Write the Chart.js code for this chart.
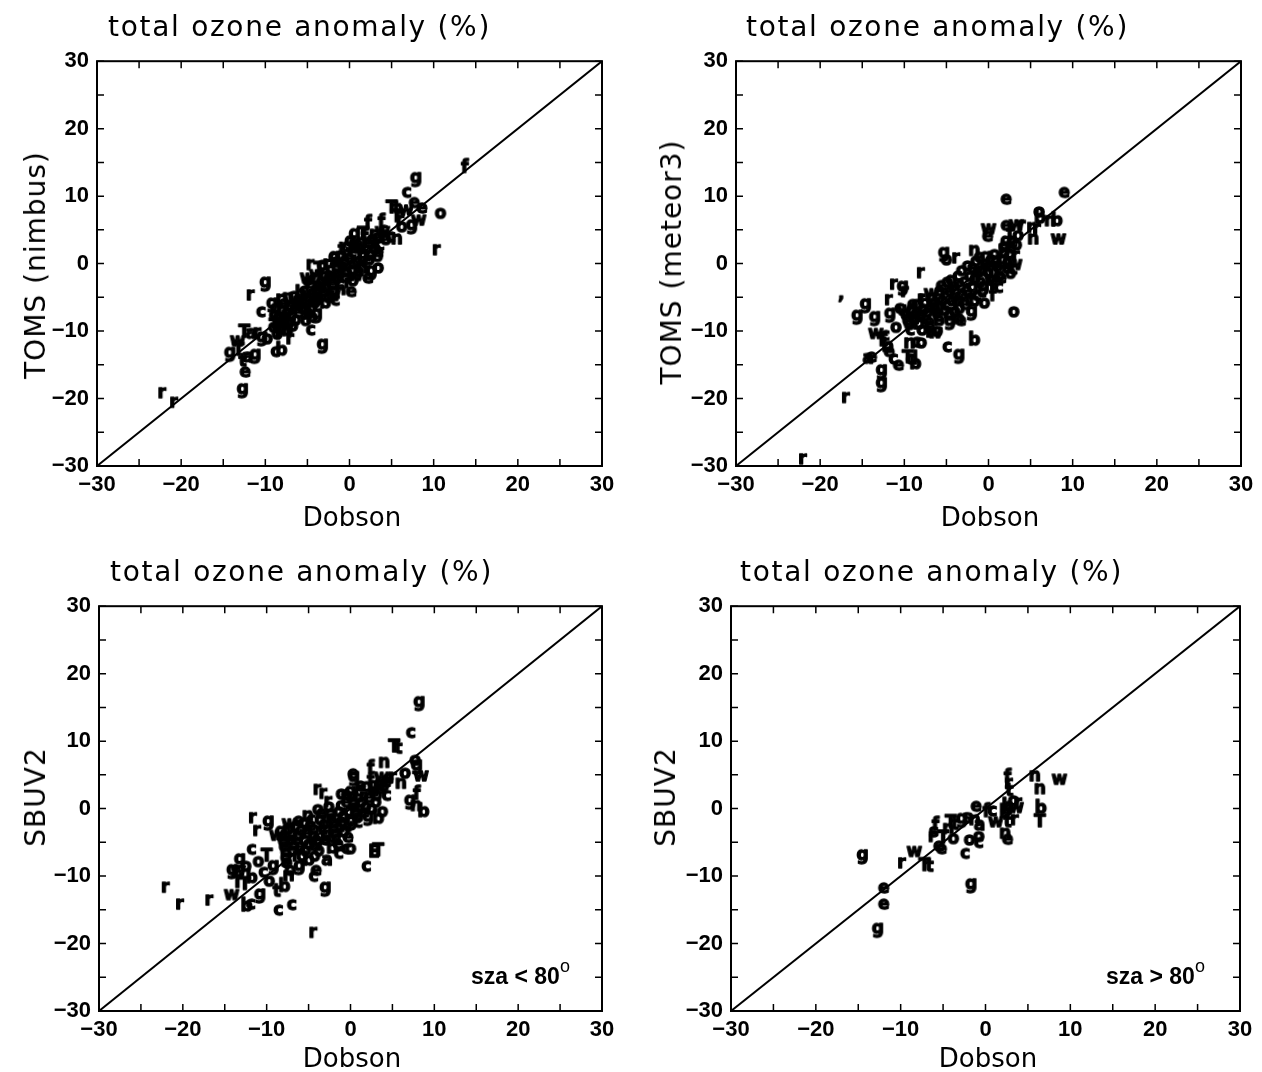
<!DOCTYPE html>
<html lang="en">
<head>
    <meta charset="UTF-8">
    <title>total ozone anomaly (%)</title>
    <script src="https://cdn.jsdelivr.net/npm/chart.js"></script>
    <style>
        body { margin: 0; background: #fff; }
        #page { position: relative; width: 1262px; height: 1072px; overflow: hidden; }
        canvas { position: absolute; }
        .title { position: absolute; font-family: "DejaVu Sans"; font-size: 28px; letter-spacing: 1.7px; white-space: nowrap; line-height: 1; transform: translateY(-50%); }
        .xlab { position: absolute; font-family: "DejaVu Sans"; font-size: 26px; white-space: nowrap; line-height: 1; transform: translate(-50%, -50%); }
        .ylab { position: absolute; font-family: "DejaVu Sans"; font-size: 28px; letter-spacing: 1px; white-space: nowrap; line-height: 1; transform: translate(-50%, -50%) rotate(-90deg); }
        .note { position: absolute; font-family: "Liberation Sans"; font-weight: bold; font-size: 23px; white-space: nowrap; line-height: 1; transform: translateY(-50%); }
        .note sup { font-size: 18px; font-weight: normal; position: relative; top: -3px; }
    </style>
</head>
<body>
<div id="page">
    <canvas id="c1" width="631" height="470" style="left:0;top:40px"></canvas>
    <canvas id="c2" width="631" height="470" style="left:631px;top:40px"></canvas>
    <canvas id="c3" width="631" height="470" style="left:0;top:585px"></canvas>
    <canvas id="c4" width="631" height="470" style="left:631px;top:585px"></canvas>

    <div class="title" style="left:108px;top:27px">total ozone anomaly (%)</div>
    <div class="title" style="left:746px;top:27px">total ozone anomaly (%)</div>
    <div class="title" style="left:110px;top:572px">total ozone anomaly (%)</div>
    <div class="title" style="left:740px;top:572px">total ozone anomaly (%)</div>

    <div class="xlab" style="left:352px;top:517px">Dobson</div>
    <div class="xlab" style="left:990px;top:517px">Dobson</div>
    <div class="xlab" style="left:352px;top:1058px">Dobson</div>
    <div class="xlab" style="left:988px;top:1058px">Dobson</div>

    <div class="ylab" style="left:36px;top:265px">TOMS (nimbus)</div>
    <div class="ylab" style="left:672px;top:262px">TOMS (meteor3)</div>
    <div class="ylab" style="left:36px;top:797px">SBUV2</div>
    <div class="ylab" style="left:666px;top:797px">SBUV2</div>

    <div class="note" style="left:471px;top:974px">sza &lt; 80<sup>o</sup></div>
    <div class="note" style="left:1106px;top:974px">sza &gt; 80<sup>o</sup></div>
</div>

<script>
    // [Dobson, satellite, station letter]
    const nimbusPts = [
        [7.9,12.6,'g'],[6.8,10.4,'c'],[5.0,8.1,'T'],[5.6,8.0,'t'],[13.7,14.1,'f'],[10.8,7.3,'o'],
        [10.3,1.9,'r'],[7.7,8.9,'e'],[8.6,8.1,'e'],[6.7,7.8,'w'],[7.4,5.6,'g'],[8.2,6.3,'w'],
        [5.6,6.8,'T'],[6.2,5.3,'o'],[6.0,6.3,'r'],[2.2,5.8,'f'],[3.8,6.0,'f'],[4.0,4.8,'c'],
        [0.6,4.3,'g'],[1.6,4.2,'T'],[5.6,3.5,'n'],[4.9,3.8,'c'],[3.3,0.9,'o'],[3.4,-0.8,'o'],
        [2.2,-2.3,'e'],[-10.0,-2.9,'g'],[-11.8,-4.8,'r'],[-10.5,-7.3,'c'],[-12.5,-10.3,'T'],
        [-11.7,-10.5,'a'],[-11.0,-10.4,'r'],[-13.3,-11.6,'w'],[-14.2,-13.3,'g'],[-13.2,-13.0,'T'],
        [-11.2,-13.6,'g'],[-12.1,-14.0,'a'],[-12.7,-14.6,'t'],[-12.4,-16.2,'e'],[-12.7,-18.7,'g'],
        [-22.3,-19.3,'r'],[-20.9,-20.7,'r'],[-8.8,-13.2,'c'],[-8.1,-13.0,'b'],[-7.1,-11.3,'r'],
        [-7.4,-10.1,'b'],[-4.6,-10.0,'c'],[-4.5,-8.1,'b'],[-3.2,-12.1,'g'],[-9.8,-11.3,'o'],
        [-10.4,-11.0,'g'],[-4.7,-0.3,'r'],[-5.0,-2.3,'w'],[-1.8,0.8,'o'],[-9.0,-9.6,'o'],
        [-8.5,-10.5,'T'],[-8.2,-8.5,'b'],
        [-9.2,-6.0,'g'],[-9.0,-7.8,'c'],[-8.9,-9.4,'T'],[-8.6,-10.6,'o'],[-8.3,-5.4,'r'],
        [-8.0,-7.0,'b'],[-7.9,-8.6,'e'],[-7.6,-9.8,'w'],[-7.3,-5.2,'n'],[-7.1,-6.4,'g'],
        [-6.9,-7.9,'c'],[-6.6,-5.0,'o'],[-6.3,-6.2,'t'],[-6.1,-7.4,'e'],[-5.8,-4.6,'b'],
        [-5.6,-5.8,'r'],[-5.3,-7.0,'g'],[-5.0,-3.6,'f'],[-4.8,-5.1,'o'],[-4.5,-6.3,'w'],
        [-4.3,-2.4,'c'],[-4.0,-4.0,'e'],[-3.8,-5.4,'n'],[-3.6,-1.0,'T'],[-3.3,-2.8,'g'],
        [-3.1,-4.3,'o'],[-2.9,-6.0,'b'],[-2.7,-0.2,'r'],[-2.4,-1.9,'e'],[-2.2,-3.4,'c'],
        [-2.0,-4.9,'w'],[-1.8,0.9,'g'],[-1.5,-0.8,'o'],[-1.3,-2.5,'f'],[-1.1,-4.0,'n'],
        [-0.9,1.9,'t'],[-0.6,0.3,'e'],[-0.4,-1.4,'b'],[-0.2,-3.0,'r'],[0.1,3.2,'g'],
        [0.3,1.5,'c'],[0.5,-0.2,'o'],[0.7,-1.9,'w'],[1.0,2.6,'e'],[1.2,0.8,'T'],
        [1.5,-0.8,'n'],[1.8,3.8,'f'],[2.0,2.0,'o'],[2.3,0.4,'b'],[2.6,-1.2,'g'],
        [2.8,4.2,'r'],[3.1,2.8,'c'],[3.4,1.6,'e'],[3.9,4.6,'w'],[4.3,3.4,'o'],
        [-3.9,-7.6,'g'],[-1.7,-5.6,'c'],[0.2,-4.3,'e'],[-6.8,-9.4,'b'],[-5.2,-8.6,'o'],
        [-8.8,-6.8,'o'],[-8.5,-8.2,'g'],[-8.2,-9.8,'c'],[-7.8,-6.1,'e'],[-7.5,-7.5,'o'],
        [-7.2,-8.9,'b'],[-6.9,-5.8,'w'],[-6.7,-7.0,'r'],[-6.4,-8.5,'o'],[-6.0,-5.4,'g'],
        [-5.7,-6.7,'e'],[-5.4,-4.2,'c'],[-5.1,-5.6,'o'],[-4.9,-7.6,'b'],[-4.6,-3.1,'e'],
        [-4.4,-4.6,'g'],[-4.1,-5.9,'o'],[-3.9,-1.8,'w'],[-3.7,-3.4,'e'],[-3.4,-4.9,'c'],
        [-3.2,-0.4,'o'],[-3.0,-2.0,'g'],[-2.8,-3.7,'b'],[-2.5,-5.2,'o'],[-2.3,-1.1,'c'],
        [-2.1,-2.6,'e'],[-1.9,-4.2,'o'],[-1.6,0.1,'e'],[-1.4,-1.6,'g'],[-1.2,-3.3,'c'],
        [-1.0,1.0,'o'],[-0.8,-0.6,'e'],[-0.5,-2.2,'o'],[-0.3,2.3,'g'],[0.0,0.6,'e'],
        [0.2,-1.1,'c'],[0.4,-2.7,'o'],[0.6,2.1,'b'],[0.9,0.1,'o'],[1.1,-1.3,'e'],
        [1.4,3.0,'g'],[1.6,1.3,'o'],[1.9,-0.1,'c'],[2.2,2.9,'e'],[2.5,1.1,'o'],
        [2.7,3.4,'g'],[3.0,2.0,'o'],[3.3,3.7,'e'],[3.6,2.6,'c'],[4.1,4.0,'e']
    ];

    const meteorPts = [
        [9.0,10.4,'e'],[2.1,9.4,'e'],[6.0,7.5,'o'],[6.1,6.6,'b'],[7.3,6.2,'n'],[8.1,6.2,'b'],
        [5.0,5.2,'r'],[5.7,5.0,'r'],[0.0,5.0,'w'],[-0.1,3.9,'e'],[2.1,5.5,'e'],[3.3,5.6,'w'],
        [3.9,5.5,'r'],[2.6,4.3,'t'],[5.3,3.5,'n'],[8.3,3.5,'w'],[-5.3,1.5,'g'],[-5.0,0.4,'o'],
        [-3.9,0.7,'r'],[-8.1,-1.5,'r'],[-11.3,-3.2,'r'],[-10.2,-3.5,'g'],[-10.0,-4.3,'r'],
        [-11.9,-5.5,'r'],[-14.6,-6.1,'g'],[-15.6,-7.8,'g'],[-13.5,-8.0,'g'],[-11.7,-7.5,'g'],
        [-10.6,-6.8,'c'],[-17.5,-4.6,','],[-13.4,-10.5,'w'],[-12.3,-10.8,'c'],[-12.7,-11.6,'T'],
        [-12.0,-12.4,'b'],[-14.3,-14.2,'a'],[-13.9,-14.0,'e'],[-11.3,-14.3,'c'],[-9.6,-14.1,'T'],
        [-9.1,-14.3,'d'],[-10.7,-15.2,'e'],[-8.7,-15.0,'b'],[-12.7,-15.9,'g'],[-12.7,-17.8,'g'],
        [-17.0,-20.0,'r'],[-22.1,-29.1,'r'],[-4.9,-12.5,'c'],[-3.5,-13.6,'g'],[-1.7,-11.5,'b'],
        [3.0,-7.3,'o'],[-9.4,-11.9,'n'],[-8.6,-11.8,'c'],[-8.0,-11.9,'o'],[-7.0,-10.3,'r'],
        [-6.4,-10.4,'w'],[-4.6,-8.6,'g'],[-3.6,-8.3,'n'],[-1.7,-5.7,'b'],[0.5,-4.9,'f'],
        [1.2,-3.7,'c'],[2.6,-1.6,'o'],[3.1,-0.3,'w'],[-11.0,-9.6,'o'],[-11.8,-13.2,'e'],
        [-10.0,-7.0,'w'],[-9.6,-8.6,'o'],[-9.3,-10.0,'c'],[-9.0,-6.2,'e'],[-8.6,-7.6,'g'],
        [-8.3,-9.1,'b'],[-8.0,-5.4,'r'],[-7.7,-6.9,'o'],[-7.4,-8.4,'e'],[-7.1,-9.6,'c'],
        [-6.8,-4.6,'w'],[-6.5,-6.0,'g'],[-6.2,-7.4,'o'],[-5.9,-8.6,'b'],[-5.6,-3.4,'e'],
        [-5.3,-5.0,'r'],[-5.0,-6.4,'c'],[-4.7,-7.8,'o'],[-4.4,-2.6,'g'],[-4.1,-4.0,'e'],
        [-3.8,-5.4,'w'],[-3.5,-6.8,'b'],[-3.2,-1.2,'o'],[-2.9,-2.8,'c'],[-2.6,-4.2,'e'],
        [-2.3,-5.6,'r'],[-2.0,-7.2,'g'],[-1.7,1.8,'n'],[-1.5,0.2,'o'],[-1.3,-1.4,'e'],
        [-1.0,-2.9,'b'],[-0.8,-4.4,'c'],[-0.5,-6.0,'o'],[-0.3,0.9,'g'],[0.0,-0.6,'e'],
        [0.3,-2.0,'w'],[0.6,-3.3,'r'],[0.9,0.3,'o'],[1.2,-1.0,'c'],[1.5,-2.3,'e'],
        [1.8,1.4,'b'],[2.1,3.2,'g'],[2.3,0.0,'o'],[2.6,2.2,'e'],[2.9,-1.0,'c'],
        [3.2,1.0,'r'],[3.5,4.0,'o'],[-3.3,-8.6,'e'],[-6.1,-10.2,'o'],[-1.9,-3.6,'g'],
        [-9.8,-7.8,'e'],[-9.4,-9.2,'o'],[-9.1,-7.0,'g'],[-8.8,-8.4,'c'],[-8.5,-6.2,'o'],
        [-8.1,-7.8,'e'],[-7.9,-10.0,'o'],[-7.6,-6.0,'b'],[-7.3,-7.4,'o'],[-7.0,-8.9,'e'],
        [-6.7,-5.3,'g'],[-6.4,-6.7,'o'],[-6.0,-8.0,'c'],[-5.8,-4.2,'e'],[-5.5,-5.6,'o'],
        [-5.2,-7.1,'b'],[-4.9,-2.9,'o'],[-4.6,-4.3,'e'],[-4.3,-5.7,'g'],[-4.0,-7.3,'o'],
        [-3.7,-2.0,'c'],[-3.4,-3.4,'e'],[-3.1,-4.8,'o'],[-2.8,-6.2,'e'],[-2.5,-0.5,'o'],
        [-2.2,-2.1,'g'],[-1.9,-0.8,'e'],[-1.6,-2.4,'o'],[-1.4,-4.9,'c'],[-1.1,0.8,'e'],
        [-0.9,-1.2,'o'],[-0.6,-3.5,'g'],[-0.4,-0.3,'e'],[-0.1,-1.4,'o'],[0.2,0.4,'c'],
        [0.4,-2.7,'e'],[0.7,1.2,'o'],[1.0,-0.5,'e'],[1.3,-2.0,'o'],[1.6,0.5,'g'],
        [1.9,2.4,'o'],[2.2,-0.8,'e'],[2.5,1.3,'o'],[2.8,3.0,'e'],[3.3,2.6,'o']
    ];

    const sbuvLowPts = [
        [8.2,15.7,'g'],[7.2,11.1,'c'],[5.2,9.0,'T'],[5.7,8.8,'t'],[4.0,6.7,'n'],[2.4,5.8,'f'],
        [7.9,6.3,'g'],[7.7,7.0,'o'],[8.4,4.7,'w'],[6.5,5.1,'o'],[6.0,3.6,'n'],[5.0,4.5,'r'],
        [7.1,1.1,'g'],[7.9,2.0,'f'],[7.8,0.3,'n'],[8.7,-0.6,'b'],[-4.0,2.7,'r'],[-3.3,2.1,'r'],
        [-1.1,2.0,'o'],[0.3,5.0,'e'],[-11.7,-1.5,'r'],[-9.8,-2.0,'g'],[-11.2,-3.4,'r'],
        [4.3,1.8,'c'],[3.8,-0.6,'o'],[3.3,-1.6,'b'],[0.0,-6.1,'o'],[-0.5,-6.1,'c'],
        [2.8,-6.6,'E'],[3.3,-6.4,'T'],[1.9,-8.7,'c'],[-13.2,-7.6,'g'],[-14.1,-9.2,'g'],
        [-13.4,-9.4,'w'],[-12.5,-8.7,'o'],[-11.8,-6.2,'c'],[-11.0,-8.0,'o'],[-13.5,-11.1,'T'],
        [-12.6,-11.4,'T'],[-11.8,-10.4,'b'],[-14.2,-12.9,'w'],[-10.8,-12.8,'g'],[-12.4,-14.6,'b'],
        [-11.9,-14.3,'c'],[-8.6,-15.2,'c'],[-7.0,-14.4,'c'],[-22.1,-11.8,'r'],[-20.4,-14.3,'r'],
        [-16.9,-13.7,'r'],[-4.5,-18.5,'r'],[-3.0,-11.8,'g'],[-4.4,-10.2,'c'],[-4.1,-9.3,'e'],
        [-8.8,-12.4,'t'],[-7.9,-11.7,'b'],[-9.7,-10.9,'o'],[-7.4,-10.1,'n'],[-5.0,-7.8,'b'],
        [-2.8,-7.8,'a'],[-8.8,-4.1,'w'],[-10.4,-9.6,'c'],[-9.2,-8.6,'g'],[-10.0,-7.2,'T'],
        [-8.3,-3.5,'g'],[-8.0,-5.0,'o'],[-7.8,-6.6,'c'],[-7.6,-8.2,'e'],[-7.3,-2.4,'w'],
        [-7.0,-4.0,'b'],[-6.8,-5.6,'o'],[-6.5,-7.2,'r'],[-6.2,-2.0,'e'],[-5.9,-3.4,'g'],
        [-5.6,-4.9,'c'],[-5.4,-6.4,'o'],[-5.1,-1.2,'n'],[-4.8,-2.7,'e'],[-4.5,-4.2,'b'],
        [-4.2,-5.6,'w'],[-3.9,-0.3,'o'],[-3.6,-1.8,'g'],[-3.3,-3.3,'c'],[-3.0,-4.8,'e'],
        [-2.7,0.9,'r'],[-2.4,-0.9,'o'],[-2.1,-2.4,'b'],[-1.8,-3.9,'g'],[-1.5,-5.4,'e'],
        [-1.2,0.3,'c'],[-0.9,-1.3,'o'],[-0.6,-2.8,'w'],[-0.3,-4.4,'e'],[0.0,2.4,'g'],
        [0.3,0.8,'b'],[0.6,-0.8,'o'],[0.9,-2.2,'c'],[1.2,3.2,'e'],[1.5,1.6,'r'],
        [1.8,0.1,'o'],[2.1,-1.3,'g'],[2.4,4.0,'f'],[2.7,2.4,'e'],[3.0,0.8,'o'],
        [3.3,3.4,'c'],[3.7,4.5,'w'],[4.2,3.8,'e'],[-6.1,-8.6,'g'],[-4.3,-7.2,'o'],
        [-2.2,-6.0,'b'],[-0.5,1.9,'e'],[0.4,4.6,'g'],[-7.2,-9.3,'o'],[-1.4,-6.8,'c'],
        [-8.1,-4.3,'o'],[-7.9,-5.8,'e'],[-7.7,-7.4,'g'],[-7.4,-3.2,'o'],[-7.1,-4.8,'e'],
        [-6.9,-6.4,'o'],[-6.6,-2.8,'c'],[-6.3,-4.2,'o'],[-6.0,-5.8,'e'],[-5.8,-7.2,'o'],
        [-5.5,-2.3,'g'],[-5.2,-3.8,'e'],[-5.0,-5.4,'o'],[-4.7,-1.8,'c'],[-4.4,-3.3,'o'],
        [-4.1,-4.8,'e'],[-3.8,-6.4,'o'],[-3.5,-0.9,'e'],[-3.2,-2.5,'o'],[-2.9,-4.0,'g'],
        [-2.6,0.1,'o'],[-2.3,-1.6,'e'],[-2.0,-3.1,'o'],[-1.7,-4.6,'c'],[-1.4,-0.6,'o'],
        [-1.1,-2.1,'e'],[-0.8,-3.6,'o'],[-0.5,0.8,'e'],[-0.2,-0.6,'o'],[0.1,-2.0,'g'],
        [0.2,1.6,'o'],[0.5,0.0,'e'],[0.8,-1.5,'o'],[1.0,2.4,'c'],[1.3,0.8,'o'],
        [1.6,-0.7,'e'],[1.9,3.1,'o'],[2.2,1.5,'e'],[2.5,-0.2,'o'],[2.8,3.3,'g'],
        [3.1,1.8,'o'],[3.5,2.8,'e'],[3.9,3.1,'o'],[4.5,4.3,'e']
    ];

    const sbuvHighPts = [
        [2.6,4.5,'f'],[2.7,3.6,'r'],[2.8,2.5,'t'],[5.8,4.7,'n'],[8.7,4.2,'w'],[6.4,2.8,'n'],
        [6.5,-0.1,'b'],[6.4,-2.1,'T'],[3.3,1.0,'o'],[3.8,0.7,'r'],[2.6,0.2,'b'],[2.5,-0.2,'a'],
        [3.6,0.0,'w'],[-1.1,0.2,'e'],[0.1,-0.6,'f'],[0.8,-0.5,'c'],[2.3,-0.7,'b'],[1.2,-2.1,'w'],
        [2.6,-2.1,'t'],[3.4,-1.8,'r'],[2.3,-3.8,'n'],[2.6,-4.7,'e'],[-2.8,-1.6,'g'],[-2.1,-1.5,'s'],
        [-1.3,-1.8,'n'],[-0.7,-2.6,'a'],[-4.1,-2.2,'T'],[-3.6,-2.5,'t'],[-4.4,-3.1,'n'],
        [-5.9,-2.6,'f'],[-6.1,-3.6,'s'],[-6.3,-4.3,'r'],[-5.0,-4.5,'T'],[-3.8,-4.6,'o'],
        [-1.9,-4.8,'o'],[-0.8,-4.3,'o'],[-0.8,-5.2,'c'],[-5.5,-5.7,'e'],[-5.2,-6.1,'e'],
        [-2.4,-6.8,'c'],[-14.5,-7.0,'g'],[-8.4,-6.5,'w'],[-9.9,-8.2,'r'],[-7.2,-8.6,'T'],
        [-6.6,-8.7,'t'],[-1.7,-11.3,'g'],[-12.0,-11.9,'e'],[-12.0,-14.3,'e'],[-12.7,-17.9,'g']
    ];

    const tickValues = [-30, -25, -20, -15, -10, -5, 0, 5, 10, 15, 20, 25, 30];
    const oneToOne = [[-30, -30], [30, 30]];

    const MARK_FONT = 'bold 17px "DejaVu Sans"';
    const TICK_FONT = { family: 'Liberation Sans', size: 22, weight: 'bold' };

    // letter markers, one small canvas per letter
    const glyphCache = {};
    function glyph(ch) {
        if (!glyphCache[ch]) {
            const c = document.createElement('canvas');
            const g = c.getContext('2d');
            g.font = MARK_FONT;
            const w = Math.ceil(g.measureText(ch).width) + 4;
            c.width = w;
            c.height = 24;
            g.font = MARK_FONT;
            g.fillStyle = '#000';
            g.strokeStyle = '#000';
            g.lineWidth = 1.3;
            g.lineJoin = 'round';
            g.textAlign = 'center';
            g.textBaseline = 'middle';
            g.fillText(ch, w / 2, 12);
            g.strokeText(ch, w / 2, 12);
            glyphCache[ch] = c;
        }
        return glyphCache[ch];
    }

    // box and inward ticks on all four sides
    const framePlugin = {
        id: 'frame',
        afterDatasetsDraw(chart) {
            const { ctx, chartArea: a, scales } = chart;
            ctx.save();
            ctx.strokeStyle = '#000';
            ctx.lineWidth = 2;
            ctx.strokeRect(a.left, a.top, a.right - a.left, a.bottom - a.top);
            ctx.lineWidth = 1.5;
            ctx.beginPath();
            tickValues.forEach(v => {
                const px = scales.x.getPixelForValue(v);
                const py = scales.y.getPixelForValue(v);
                ctx.moveTo(px, a.bottom); ctx.lineTo(px, a.bottom - 7);
                ctx.moveTo(px, a.top); ctx.lineTo(px, a.top + 7);
                ctx.moveTo(a.left, py); ctx.lineTo(a.left + 7, py);
                ctx.moveTo(a.right, py); ctx.lineTo(a.right - 7, py);
            });
            ctx.stroke();
            ctx.restore();
        }
    };

    function tickLabel(v) {
        if (v % 10 !== 0) return '';
        return v < 0 ? '\u2212' + Math.abs(v) : String(v);
    }

    function makeChart(id, pts, box) {
        const marks = pts.map(p => p[2]);
        new Chart(document.getElementById(id), {
            type: 'scatter',
            data: {
                datasets: [
                    {
                        data: pts.map(p => ({ x: p[0], y: p[1] })),
                        pointStyle: c => glyph(marks[c.dataIndex] || 'o'),
                        pointRadius: 5,
                        pointHoverRadius: 5
                    },
                    {
                        type: 'line',
                        data: oneToOne.map(p => ({ x: p[0], y: p[1] })),
                        borderColor: '#000',
                        borderWidth: 2,
                        pointRadius: 0,
                        showLine: true
                    }
                ]
            },
            options: {
                responsive: false,
                animation: false,
                events: [],
                layout: { padding: { left: 0, top: box.top, right: box.right, bottom: 0 } },
                plugins: { legend: { display: false }, tooltip: { enabled: false } },
                scales: {
                    x: {
                        type: 'linear', min: -30, max: 30,
                        afterFit: s => { s.height = box.bottom; },
                        grid: { display: false, drawTicks: false },
                        border: { display: false },
                        ticks: { stepSize: 5, autoSkip: false, maxRotation: 0, padding: 6,
                                 color: '#000', font: TICK_FONT, callback: tickLabel }
                    },
                    y: {
                        type: 'linear', min: -30, max: 30,
                        afterFit: s => { s.width = box.left; },
                        grid: { display: false, drawTicks: false },
                        border: { display: false },
                        ticks: { stepSize: 5, autoSkip: false, padding: 8,
                                 color: '#000', font: TICK_FONT, callback: tickLabel }
                    }
                }
            },
            plugins: [framePlugin]
        });
    }

    makeChart('c1', nimbusPts,   { left: 97,  top: 18, right: 29, bottom: 44 });
    makeChart('c2', meteorPts,   { left: 105, top: 17, right: 21, bottom: 44 });
    makeChart('c3', sbuvLowPts,  { left: 99,  top: 17, right: 29, bottom: 44 });
    makeChart('c4', sbuvHighPts, { left: 100, top: 16, right: 22, bottom: 44 });
</script>
</body>
</html>
